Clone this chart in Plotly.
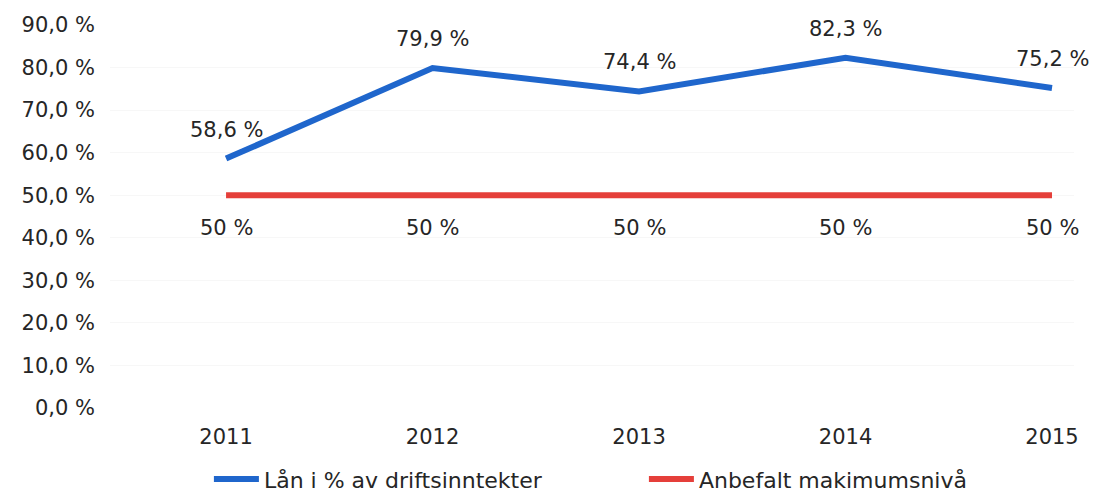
import plotly.graph_objects as go

years = [2011, 2012, 2013, 2014, 2015]
laan = [58.6, 79.9, 74.4, 82.3, 75.2]
anbefalt = [50, 50, 50, 50, 50]
laan_labels = ["58,6 %", "79,9 %", "74,4 %", "82,3 %", "75,2 %"]
anbefalt_labels = ["50 %", "50 %", "50 %", "50 %", "50 %"]
y_ticks = [0, 10, 20, 30, 40, 50, 60, 70, 80, 90]
y_ticktext = ["0,0 %", "10,0 %", "20,0 %", "30,0 %", "40,0 %", "50,0 %", "60,0 %", "70,0 %", "80,0 %", "90,0 %"]

FONT = "DejaVu Sans"
TXT = "#262626"
BLUE = "#1f66cc"
RED = "#e53f3a"

fig = go.Figure()
fig.add_trace(go.Scatter(x=years, y=laan, mode="lines", name="Lån i % av driftsinntekter",
                         line=dict(color=BLUE, width=6)))
fig.add_trace(go.Scatter(x=years, y=anbefalt, mode="lines", name="Anbefalt makimumsnivå",
                         line=dict(color=RED, width=6)))

for x, y, t in zip(years, laan, laan_labels):
    fig.add_annotation(x=x, y=y, text=t, showarrow=False, yshift=29,
                       font=dict(family=FONT, size=21, color=TXT))
for x, y, t in zip(years, anbefalt, anbefalt_labels):
    fig.add_annotation(x=x, y=y, text=t, showarrow=False, yshift=-33,
                       font=dict(family=FONT, size=21, color=TXT))

fig.update_layout(
    width=1094, height=495,
    margin=dict(l=110, r=20, t=25, b=87, autoexpand=False),
    paper_bgcolor="white", plot_bgcolor="white",
    showlegend=True,
    legend=dict(orientation="h", x=0.1026, xanchor="left", y=-0.186, yanchor="middle",
                font=dict(family=FONT, size=22, color=TXT), entrywidth=375, itemwidth=45,
                tracegroupgap=0),
    font=dict(family=FONT, color=TXT),
)
fig.update_xaxes(range=[2010.438, 2015.1065], tickvals=years, ticktext=[str(y) for y in years],
                 showgrid=False, zeroline=False, showline=False, ticks="",
                 tickfont=dict(family=FONT, size=21, color=TXT), ticklabelstandoff=14)
fig.update_yaxes(range=[0, 90], tickvals=y_ticks, ticktext=y_ticktext,
                 showgrid=True, gridcolor="#f7f7f7", zeroline=False, showline=False, ticks="",
                 tickfont=dict(family=FONT, size=21, color=TXT), ticklabelstandoff=14)

fig.write_html("out.html", config={"displayModeBar": False},
               post_script="document.body.style.margin='0';")
